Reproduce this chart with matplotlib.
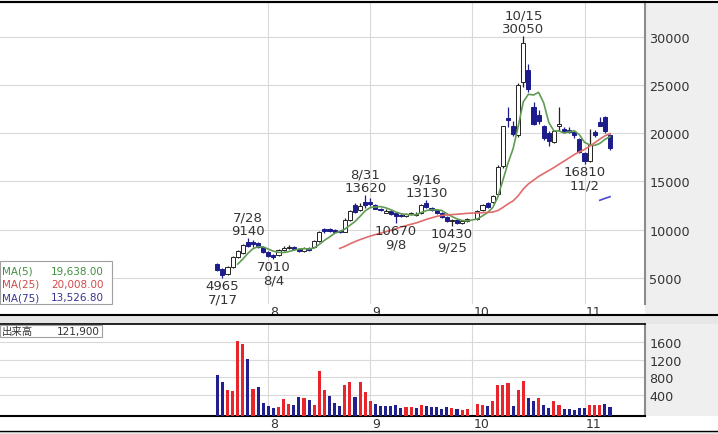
import matplotlib
matplotlib.use('Agg')
import matplotlib.pyplot as plt
from matplotlib.patches import Rectangle
from matplotlib.lines import Line2D
import numpy as np
import pandas as pd

W, H = 718, 435

# trading days 2020/7/16 - 11/10, 10/1 kept as an empty slot (TSE outage)
holidays = ['2020-07-23', '2020-07-24', '2020-08-10', '2020-09-21', '2020-09-22', '2020-11-03']
dates = pd.bdate_range('2020-07-16', '2020-11-10')
dates = dates[~dates.isin(pd.to_datetime(holidays))]

nan = np.nan
opens = [6500, 5900, 5400, 6100, 7200, 7600, 8700, 8700, 8600, 8200,
         7700, 7400, 7400, 7900, 8100, 8200, 8000, 7800, 8100, 8200,
         8800, 10100, 10100, 9950, 9900, 9800, 11000, 12600, 12000, 12900,
         12900, 12600, 12200, 11750, 11900, 11700, 11500, 11400, 11600, 11500,
         11700, 12800, 12300, 12000, 11700, 11300, 10900, 11000, 10700, 10900,
         nan, 11100, 12000, 12800, 12900, 13700, 16600, 21600, 20800, 19800,
         25300, 26500, 22700, 21900, 20700, 20000, 19100, 20700, 20400, 20300,
         20100, 19400, 18000, 17100, 20100, 21200, 21700, 19800]
highs = [6600, 6000, 6200, 7300, 7900, 8500, 9140, 8900, 8700, 8300,
         7800, 7500, 8000, 8300, 8400, 8300, 8100, 8200, 8200, 8900,
         9900, 10200, 10200, 10050, 10000, 11200, 12000, 12800, 12800, 13620,
         13300, 12700, 12300, 12200, 12000, 11800, 11700, 11700, 11800, 11800,
         12700, 13130, 12400, 12100, 11800, 11400, 11100, 11100, 11000, 11200,
         nan, 12000, 12700, 12900, 13600, 16700, 20800, 22700, 21300, 25200,
         30050, 27200, 23200, 22400, 20900, 20200, 20300, 22700, 20600, 20600,
         20200, 19500, 18100, 20400, 20300, 21700, 21800, 19900]
lows = [5700, 4965, 5300, 6000, 7100, 7500, 8200, 8200, 8100, 7600,
        7200, 7010, 7300, 7800, 8000, 7900, 7700, 7700, 7800, 8100,
        8700, 9700, 9800, 9750, 9700, 9750, 10900, 11700, 11900, 12300,
        12500, 12100, 11900, 11700, 11500, 10670, 11300, 11300, 11500, 11400,
        11600, 12300, 11900, 11600, 11200, 10800, 10430, 10600, 10600, 10800,
        nan, 11000, 11900, 12300, 12800, 13600, 16400, 20600, 19700, 19600,
        24800, 24300, 20900, 21000, 19300, 18700, 19000, 20200, 20000, 20000,
        19500, 17900, 16810, 17000, 19600, 20700, 20000, 18300]
closes = [5800, 5300, 6100, 7200, 7800, 8400, 8300, 8500, 8200, 7700,
          7300, 7200, 7900, 8100, 8200, 8000, 7800, 8100, 7900, 8800,
          9800, 9900, 9850, 9800, 9750, 11000, 11900, 11800, 12500, 12600,
          12700, 12200, 12000, 11900, 11600, 11450, 11400, 11600, 11700, 11650,
          12600, 12400, 12000, 11700, 11300, 10900, 11000, 10700, 10900, 11100,
          nan, 11900, 12600, 12400, 13500, 16500, 20700, 21400, 19900, 25000,
          29300, 24600, 21000, 21300, 19500, 19200, 20200, 21000, 20200, 20100,
          19800, 18100, 17100, 18900, 19800, 20800, 20200, 18500]
# volume (thousand shares)
volumes = [848, 696, 507, 484, 1621, 1568, 1212, 544, 583, 226,
           151, 105, 128, 318, 204, 165, 355, 332, 279, 181,
           939, 522, 378, 226, 151, 621, 697, 355, 697, 469,
           257, 204, 143, 151, 151, 165, 105, 128, 128, 105,
           181, 151, 128, 128, 82, 124, 105, 74, 51, 90,
           nan, 204, 181, 151, 257, 621, 635, 674, 151, 507,
           719, 332, 257, 332, 181, 105, 265, 181, 74, 74,
           51, 105, 105, 181, 181, 181, 204, 122]

# marked highs / lows
mark_dates = ['7/17', '7/28', '8/4', '8/31', '9/8', '9/16', '9/25', '10/15', '11/2']
mark_kind = ['low', 'high', 'low', 'high', 'low', 'high', 'low', 'high', 'low']

ma_labels = ['MA(5)', 'MA(25)', 'MA(75)']
ma_values = ['19,638.00', '20,008.00', '13,526.80']
volume_label = '出来高'
volume_value = '121,900'

price_ticks = [5000, 10000, 15000, 20000, 25000, 30000]
volume_ticks = [400, 800, 1200, 1600]

# colours
navy = '#1c1c8c'
vol_red = '#e8252b'
vol_blue = '#20208f'
ma_line_colors = ['#5f9c52', '#e26b6b', '#4b4bd2']
ma_text_colors = ['#3f8f3f', '#cf4a4a', '#36368f']
text_col = '#333333'
grid_col = '#d9d9d9'

o = np.array(opens, float)
h = np.array(highs, float)
l = np.array(lows, float)
c = np.array(closes, float)
v = np.array(volumes, float)
x = np.arange(len(dates))
traded = ~np.isnan(c)

# pixel layout
x0_px, step_px = 217.3, 5.1
plot_right = 645


def fx(px):
    return px / W


def fy(py):
    return 1 - py / H


fig = plt.figure(figsize=(W / 100, H / 100), dpi=100)

ax = fig.add_axes([0, fy(305), fx(plot_right), (305 - 3) / H])
axv = fig.add_axes([0, fy(417), fx(plot_right), (417 - 325) / H])

xlim = (-x0_px / step_px, (plot_right - x0_px) / step_px)
for a in (ax, axv):
    a.set_xlim(*xlim)

ax.set_ylim(2308, 33595)
vol_floor = -77
axv.set_ylim(vol_floor, 2017)

# month grid
month_pos = [i for i in range(1, len(dates)) if dates[i].month != dates[i - 1].month]
for a in (ax, axv):
    a.set_xticks(month_pos)
    a.tick_params(axis='x', length=0, labelbottom=False)
    a.grid(True, color=grid_col, lw=0.8)
    a.set_axisbelow(True)
    a.yaxis.tick_right()
    a.tick_params(axis='y', length=0, pad=3, labelsize=9.2, labelcolor=text_col)
    for m in month_pos:
        a.annotate(str(dates[m].month), xy=(m, 0), xycoords=('data', 'axes fraction'),
                   xytext=(1.5, -1), textcoords='offset pixels', ha='left', va='top',
                   fontsize=9, color=text_col, annotation_clip=False)

ax.set_yticks(price_ticks)
ax.set_yticklabels([str(t) for t in price_ticks])
axv.set_yticks(volume_ticks)
axv.set_yticklabels([str(t) for t in volume_ticks])

# candles
up = c >= o
wick_cols = np.where(up, '#222222', navy)
ax.vlines(x[traded], l[traded], h[traded], colors=wick_cols[traded], lw=0.9, zorder=2)
body_h = np.maximum(np.abs(c - o), 40)
body_b = np.minimum(o, c)
face = np.where(up, 'white', navy)
edge = np.where(up, '#222222', navy)
ax.bar(x[traded], body_h[traded], bottom=body_b[traded], width=0.8,
       color=face[traded], edgecolor=edge[traded], lw=0.7, zorder=3)

# moving averages on trading days only
cs = pd.Series(c[traded], index=x[traded])
for n, col in zip([5, 25, 75], ma_line_colors):
    ma = cs.rolling(n).mean()
    ax.plot(ma.index, ma.values, color=col, lw=1.2, zorder=4)

# volume bars, coloured by change of close
prev = pd.Series(c[traded]).shift(1).values
vol_up = np.where(np.isnan(prev), c[traded] >= o[traded], c[traded] >= prev)
vcols = np.where(vol_up, vol_red, vol_blue)
axv.bar(x[traded], v[traded] - vol_floor, bottom=vol_floor, width=0.6,
        color=vcols, zorder=3)

# high / low labels
for d, kind in zip(mark_dates, mark_kind):
    mth, day = map(int, d.split('/'))
    i = int(np.where((dates.month == mth) & (dates.day == day))[0][0])
    if kind == 'high':
        ax.annotate(f'{d}\n{int(h[i])}', xy=(i, h[i]), xytext=(0, 1),
                    textcoords='offset pixels', ha='center', va='bottom',
                    fontsize=9.5, color=text_col, linespacing=1.05, zorder=6)
    else:
        ax.annotate(f'{int(l[i])}\n{d}', xy=(i, l[i]), xytext=(0, -1),
                    textcoords='offset pixels', ha='center', va='top',
                    fontsize=9.5, color=text_col, linespacing=1.05, zorder=6)

# frames
for a in (ax, axv):
    a.spines['left'].set_visible(False)
    a.spines['right'].set_color('#8c8c8c')
    a.spines['right'].set_linewidth(1.5)
ax.spines['bottom'].set_visible(False)
ax.spines['top'].set_color('black')
ax.spines['top'].set_linewidth(1.5)
axv.spines['top'].set_color('black')
axv.spines['top'].set_linewidth(1.2)
axv.spines['bottom'].set_color('black')
axv.spines['bottom'].set_linewidth(1.5)

# right scale panel and separators
fig.add_artist(Rectangle((fx(plot_right), fy(315)), fx(W - plot_right), (315 - 3) / H,
                         transform=fig.transFigure, facecolor='#efefef', edgecolor='none', zorder=-1))
fig.add_artist(Rectangle((fx(plot_right), fy(417)), fx(W - plot_right), (417 - 325) / H,
                         transform=fig.transFigure, facecolor='#efefef', edgecolor='none', zorder=-1))
fig.add_artist(Rectangle((0, fy(325)), 1, 9 / H, transform=fig.transFigure,
                         facecolor='#e6e6e6', edgecolor='none', zorder=-1))
fig.add_artist(Rectangle((0, 0), 1, 3 / H, transform=fig.transFigure,
                         facecolor='#e6e6e6', edgecolor='none', zorder=-1))
for py, lw in [(2.5, 1.5), (315.5, 1.5), (432, 1.0)]:
    fig.add_artist(Line2D([0, 1], [fy(py), fy(py)], transform=fig.transFigure,
                          color='black', lw=lw, zorder=5))

# MA legend box
fig.add_artist(Rectangle((0, fy(305)), fx(112), 43 / H, transform=fig.transFigure,
                         facecolor='white', edgecolor='#a0a0a0', lw=0.8, zorder=5))
for k, (lab, val, col) in enumerate(zip(ma_labels, ma_values, ma_text_colors)):
    yc = 271.5 + 13.3 * k
    fig.text(fx(2), fy(yc), lab, color=col, fontsize=7.5, va='center', ha='left', zorder=6)
    fig.text(fx(104), fy(yc), val, color=col, fontsize=7.5, va='center', ha='right', zorder=6)

# volume box
fig.add_artist(Rectangle((0, fy(338)), fx(102), 12.5 / H, transform=fig.transFigure,
                         facecolor='white', edgecolor='#a0a0a0', lw=0.8, zorder=5))
fig.text(fx(2), fy(332), volume_label, color=text_col, fontsize=7.5, va='center', ha='left',
         family=['Noto Sans CJK JP', 'DejaVu Sans'], zorder=6)
fig.text(fx(100), fy(332), volume_value, color=text_col, fontsize=7.5, va='center', ha='right', zorder=6)

fig.savefig('out.png', dpi=100)
